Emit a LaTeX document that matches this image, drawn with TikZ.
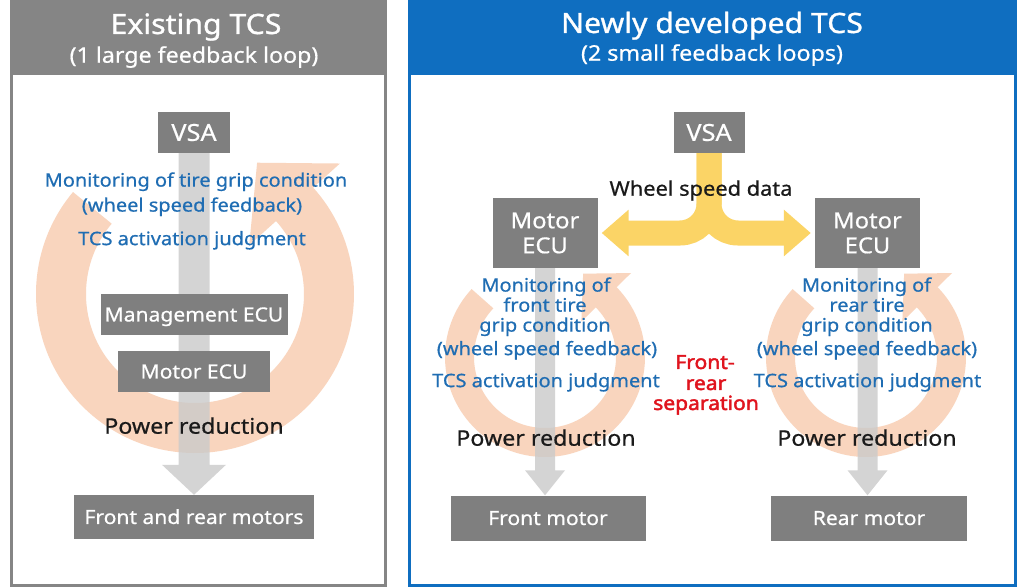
\documentclass[tikz,border=0pt]{standalone}
\usepackage{fontspec}
\setmainfont{Noto Sans}[FakeStretch=1.08, FakeBold=0.6]
\newfontfamily\redfont{Noto Sans}[FakeStretch=1.08, FakeBold=2.2]
\newfontfamily\titlefont{Noto Sans}[FakeStretch=1.08, FakeBold=1.0]
\usetikzlibrary{calc,arrows.meta}
\definecolor{boxgray}{HTML}{7F7F7F}
\definecolor{pangray}{HTML}{858585}
\definecolor{panblue}{HTML}{0F6EC0}
\definecolor{tblue}{HTML}{1F6DB3}
\definecolor{ringc}{HTML}{F9D5BE}
\definecolor{shaftc}{HTML}{CACACA}
\definecolor{yelc}{HTML}{FBD466}
\definecolor{tred}{HTML}{E0141E}
\definecolor{tblack}{HTML}{1A1A1A}
\newcommand\myfs[1]{\fontsize{#1}{#1}\selectfont}
\newcommand\myfsb[2]{\fontsize{#1}{#2}\selectfont}
\pgfdeclarelayer{bg}
\pgfdeclarelayer{mid}
\pgfsetlayers{bg,mid,main}
\tikzset{
  box/.style={fill=boxgray, text=white, inner sep=0pt, font=\myfs{19.5}, text height=13.9pt, text depth=0pt},
  boxtwo/.style={fill=boxgray, text=white, inner sep=0pt, align=center, font=\myfsb{22}{25}},
  vsabox/.style={box, minimum width=72, minimum height=41, font=\myfs{23.5}, text height=16.8pt},
  bluetxt/.style={text=tblue, inner sep=0pt, font=\myfs{18.5}, text height=13.2pt, text depth=0pt},
  blacktxt/.style={text=tblack, inner sep=0pt, font=\myfs{21.5}, text height=15.4pt, text depth=0pt},
  redtxt/.style={text=tred, inner sep=0pt, font=\redfont\myfs{19.5}, text height=13.9pt, text depth=0pt},
  ttl/.style={text=white, inner sep=0pt, font=\titlefont\myfs{28}, text height=20pt, text depth=0pt},
  subttl/.style={text=white, inner sep=0pt, font=\myfs{21.5}, text height=15.4pt, text depth=0pt},
  yelarrow/.style={draw=yelc, line width=25pt, -{Triangle[width=45pt,length=27pt]}},
}
\begin{document}
\begin{tikzpicture}[x=1pt, y=-1pt]
\useasboundingbox (0,0) rectangle (1024,588);
% ---------- panels ----------
\begin{pgfonlayer}{bg}
\draw[draw=pangray, line width=3pt, fill=white] (11,1.5) rectangle (385,585.5);
\fill[pangray] (9.5,0) rectangle (386.5,75);
\draw[draw=panblue, line width=3pt, fill=white] (409.5,1.5) rectangle (1015.5,585.5);
\fill[panblue] (408,0) rectangle (1017,75);
\end{pgfonlayer}
\node[ttl] (tL) at (196,24) {Existing TCS};
\node[subttl] (sL) at (194,55) {(1 large feedback loop)};
\node[ttl] (tR) at (712,23) {Newly developed TCS};
\node[subttl] (sR) at (712,53) {(2 small feedback loops)};
% ---------- loops ----------
\coordinate (cL) at (195,294);
\coordinate (cF) at (545,357);
\coordinate (cR) at (866,357);
\begin{pgfonlayer}{bg}
\draw[ringc, line width=50pt] ($(cL)+(-140:134)$) arc[start angle=-140, end angle=-402.5, radius=134];
\fill[ringc] ($(cL)+(-42:195)$) -- ($(cL)+(-42:73)$) -- ($(cL)+(-42:134)+(-132:56)$) -- cycle;
\draw[ringc, line width=29pt] ($(cF)+(-137:85.5)$) arc[start angle=-137, end angle=-404.8, radius=85.5];
\fill[ringc] ($(cF)+(-44.3:120.2)$) -- ($(cF)+(-44.3:50.8)$) -- ($(cF)+(-44.3:85.5)+(-134.3:33)$) -- cycle;
\draw[ringc, line width=29pt] ($(cR)+(-137:85.5)$) arc[start angle=-137, end angle=-404.8, radius=85.5];
\fill[ringc] ($(cR)+(-44.3:120.2)$) -- ($(cR)+(-44.3:50.8)$) -- ($(cR)+(-44.3:85.5)+(-134.3:33)$) -- cycle;
\end{pgfonlayer}
% ---------- left boxes ----------
\node[vsabox] (vsaL) at (194,132.5) {VSA};
\node[box, minimum width=187, minimum height=41] (mgmt) at (194,314.5) {Management ECU};
\node[box, minimum width=152, minimum height=41] (mecuL) at (194,371.5) {Motor ECU};
\node[box, minimum width=240, minimum height=44] (motorsL) at (194,517) {Front and rear motors};
% ---------- right boxes ----------
\node[vsabox, minimum width=71] (vsaR) at (709,132.5) {VSA};
\node[boxtwo, minimum width=105, minimum height=70] (ecuL) at (545,233) {Motor\\ECU};
\node[boxtwo, minimum width=105, minimum height=70] (ecuR) at (867.5,233) {Motor\\ECU};
\node[box, minimum width=195, minimum height=45] (frontM) at (548,518) {Front motor};
\node[box, minimum width=196, minimum height=45] (rearM) at (869,518) {Rear motor};
% ---------- shafts ----------
\begin{pgfonlayer}{mid}
\fill[shaftc, opacity=0.8] ($(vsaL.south)+(-15.5,0)$) -- ($(motorsL.north)+(-15.5,-30)$) -- ($(motorsL.north)+(-32,-30)$) -- (motorsL.north) -- ($(motorsL.north)+(32,-30)$) -- ($(motorsL.north)+(15.5,-30)$) -- ($(vsaL.south)+(15.5,0)$) -- cycle;
\fill[shaftc, opacity=0.8] ($(ecuL.south)+(-10,0)$) -- ($(ecuL.south |- frontM.north)+(-10,-25)$) -- ($(ecuL.south |- frontM.north)+(-20,-25)$) -- (ecuL.south |- frontM.north) -- ($(ecuL.south |- frontM.north)+(20,-25)$) -- ($(ecuL.south |- frontM.north)+(10,-25)$) -- ($(ecuL.south)+(10,0)$) -- cycle;
\fill[shaftc, opacity=0.8] ($(ecuR.south)+(-10,0)$) -- ($(ecuR.south |- rearM.north)+(-10,-25)$) -- ($(ecuR.south |- rearM.north)+(-20,-25)$) -- (ecuR.south |- rearM.north) -- ($(ecuR.south |- rearM.north)+(20,-25)$) -- ($(ecuR.south |- rearM.north)+(10,-25)$) -- ($(ecuR.south)+(10,0)$) -- cycle;
% ---------- wheel speed data arrow ----------
\draw[yelarrow] (vsaR.south) -- ($(vsaR.south |- ecuL.east)+(0,-29)$) arc[start angle=0, end angle=90, radius=29] -- ($(ecuL.east)+(4,0)$);
\draw[yelarrow] (vsaR.south) -- ($(vsaR.south |- ecuR.east)+(0,-29)$) arc[start angle=180, end angle=90, radius=29] -- ($(ecuR.west)+(-4,0)$);
\end{pgfonlayer}
% ---------- texts ----------
\node[bluetxt] (bL1) at (196,180) {Monitoring of tire grip condition};
\node[bluetxt] (bL2) at (192,205) {(wheel speed feedback)};
\node[bluetxt] (bL3) at (192,238.5) {TCS activation judgment};
\node[blacktxt] (prL) at (194,426) {Power reduction};
\node[blacktxt, font=\myfs{20.2}, text height=14.4pt] (wsd) at (701,188.5) {Wheel speed data};
\node[bluetxt] (bF1) at (546,285) {Monitoring of};
\node[bluetxt] (bF2) at (545,305) {front tire};
\node[bluetxt] (bF3) at (545,325) {grip condition};
\node[bluetxt] (bF4) at (547,348.5) {(wheel speed feedback)};
\node[bluetxt] (bF5) at (546,380.5) {TCS activation judgment};
\node[blacktxt] (prF) at (546,438) {Power reduction};
\node[bluetxt] (bR1) at (866.5,285) {Monitoring of};
\node[bluetxt] (bR2) at (867,305) {rear tire};
\node[bluetxt] (bR3) at (867,325) {grip condition};
\node[bluetxt] (bR4) at (867,348.5) {(wheel speed feedback)};
\node[bluetxt] (bR5) at (867.5,380.5) {TCS activation judgment};
\node[blacktxt] (prR) at (867,438) {Power reduction};
\node[redtxt] (sep1) at (705,362) {Front-};
\node[redtxt] (sep2) at (706,383) {rear};
\node[redtxt] (sep3) at (706,403) {separation};
\end{tikzpicture}
\end{document}
